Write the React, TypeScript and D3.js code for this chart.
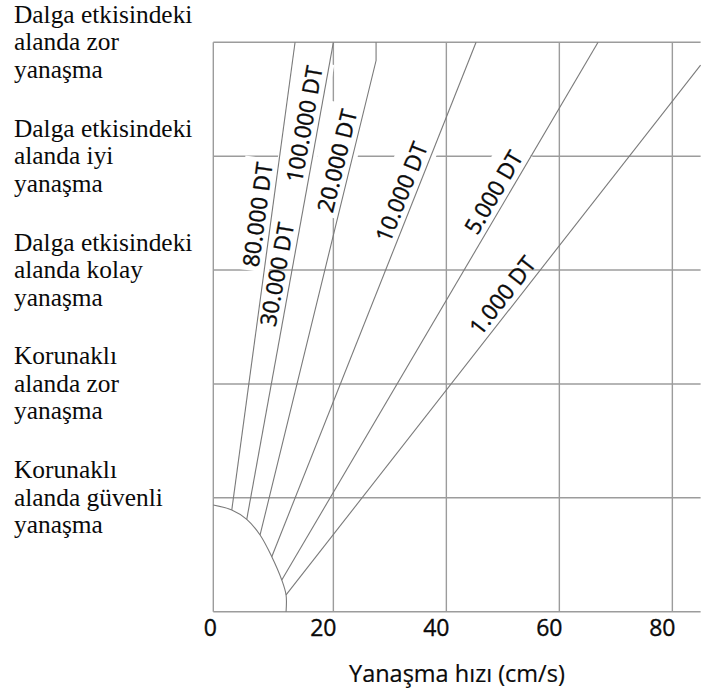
import React, { useEffect, useRef } from "react";
import * as d3 from "d3";

const W = 701;
const H = 696;

// Horizontal axis: berthing speed (cm/s)
const speedDomain = [-1.25, 85];
const speedTicks = [0, 20, 40, 60, 80];
const speedGrid = [20, 40, 60, 80];
const axisTitle = "Yanaşma hızı (cm/s)";

// Vertical axis: berthing condition levels (0 = bottom edge)
const levelDomain = [0, 5];
const levelGrid = [0, 1, 2, 3, 4, 5];
const categoryLevels = [5, 4, 3, 2, 1];
const categories = [
  ["Dalga etkisindeki", "alanda zor", "yanaşma"],
  ["Dalga etkisindeki", "alanda iyi", "yanaşma"],
  ["Dalga etkisindeki", "alanda kolay", "yanaşma"],
  ["Korunaklı", "alanda zor", "yanaşma"],
  ["Korunaklı", "alanda güvenli", "yanaşma"],
];

// Inner boundary curve the tonnage lines start from: [speed, level]
const boundary: [number, number][] = [
  [-1.25, 0.937],
  [2.02, 0.893],
  [4.67, 0.811],
  [7.03, 0.674],
  [9.1, 0.483],
  [10.87, 0.278],
  [11.63, 0.147],
  [11.63, 0],
];

// Tonnage lines, vertices from bottom to top: [speed, level]
const lineA: [number, number][] = [[2.02, 0.893], [13.22, 5]];
const lineB: [number, number][] = [[4.67, 0.811], [20, 5]];
const lineC: [number, number][] = [[7.03, 0.674], [27.56, 4.84], [27.56, 5]];
const lineD: [number, number][] = [[9.1, 0.483], [45.26, 5]];
const lineE: [number, number][] = [[10.87, 0.278], [66.85, 5]];
const lineF: [number, number][] = [[11.63, 0.147], [85, 4.8]];
const tonnageLines = [lineA, lineB, lineC, lineD, lineE, lineF];

// Labels written along the lines
const labelNames = ["80.000 DT", "100.000 DT", "30.000 DT", "20.000 DT", "10.000 DT", "5.000 DT", "1.000 DT"];
const labelLine = [0, 1, 1, 2, 3, 4, 5];
const labelLevel = [3.47, 4.26, 2.94, 3.93, 3.64, 3.62, 2.7];
const labelBoxed = [true, true, false, true, true, true, false];

export default function App() {
  const ref = useRef<SVGSVGElement>(null);

  useEffect(() => {
    const svg = d3.select(ref.current);
    svg.selectAll("*").remove();

    const x = d3.scaleLinear().domain(speedDomain).range([213.3, 700.6]);
    const y = d3.scaleLinear().domain(levelDomain).range([611.7, 42.3]);

    const gridColor = "#9c9c9c";
    const lineColor = "#7a7a7a";
    const ink = "#0a0a0a";
    const sans = "'Open Sans', sans-serif";
    const serif = "'Liberation Serif', 'Times New Roman', serif";

    const gGrid = svg.append("g");
    const gMask = svg.append("g");
    const gLines = svg.append("g");
    const gText = svg.append("g");

    // grid
    gGrid
      .selectAll("line.h")
      .data(levelGrid)
      .join("line")
      .attr("class", "h")
      .attr("x1", x(speedDomain[0]))
      .attr("x2", x(speedDomain[1]))
      .attr("y1", (d) => y(d))
      .attr("y2", (d) => y(d))
      .attr("stroke", gridColor)
      .attr("stroke-width", 1.4);

    gGrid
      .selectAll("line.v")
      .data([speedDomain[0], ...speedGrid])
      .join("line")
      .attr("class", "v")
      .attr("x1", (d) => x(d))
      .attr("x2", (d) => x(d))
      .attr("y1", y(levelDomain[0]))
      .attr("y2", y(levelDomain[1]))
      .attr("stroke", gridColor)
      .attr("stroke-width", 1.4);

    const toPx = (pts: [number, number][]) => pts.map(([s, l]) => [x(s), y(l)] as [number, number]);
    const path = d3.line();

    // boundary arc
    gLines
      .append("path")
      .attr("d", d3.line().curve(d3.curveCatmullRom.alpha(0.5))(toPx(boundary)))
      .attr("fill", "none")
      .attr("stroke", lineColor)
      .attr("stroke-width", 1.1);

    // tonnage lines
    gLines
      .selectAll("path.t")
      .data(tonnageLines)
      .join("path")
      .attr("class", "t")
      .attr("d", (d) => path(toPx(d)))
      .attr("fill", "none")
      .attr("stroke", lineColor)
      .attr("stroke-width", 1.1);

    // labels along the lines
    labelNames.forEach((name, i) => {
      const pts = toPx(tonnageLines[labelLine[i]]);
      const ty = y(labelLevel[i]);
      let seg = 0;
      for (let k = 0; k < pts.length - 1; k++) {
        const [, y0] = pts[k];
        const [, y1] = pts[k + 1];
        if ((ty <= y0 && ty >= y1) || (ty >= y0 && ty <= y1)) {
          seg = k;
          break;
        }
      }
      const [x0, y0] = pts[seg];
      const [x1, y1] = pts[seg + 1];
      const t = (ty - y0) / (y1 - y0);
      const px = x0 + t * (x1 - x0);
      const ang = (Math.atan2(y1 - y0, x1 - x0) * 180) / Math.PI;
      const transform = `translate(${px},${ty}) rotate(${ang})`;

      const g = gText.append("g").attr("transform", transform);
      const txt = g
        .append("text")
        .attr("x", 0)
        .attr("y", -6)
        .attr("text-anchor", "middle")
        .attr("font-family", sans)
        .attr("font-size", 22.5)
        .attr("fill", ink)
        .attr("stroke", ink)
        .attr("stroke-width", 0.35)
        .text(name);

      if (labelBoxed[i]) {
        const bb = (txt.node() as SVGTextElement).getBBox();
        const pad = 4;
        gMask
          .append("rect")
          .attr("transform", transform)
          .attr("x", bb.x - pad)
          .attr("y", bb.y - pad)
          .attr("width", bb.width + pad * 2)
          .attr("height", bb.height + pad * 2)
          .attr("fill", "#fff");
      }
    });

    // x tick labels
    gText
      .selectAll("text.tick")
      .data(speedTicks)
      .join("text")
      .attr("class", "tick")
      .attr("x", (d) => x(d) - 10)
      .attr("y", 636)
      .attr("text-anchor", "middle")
      .attr("font-family", sans)
      .attr("font-size", 23)
      .attr("fill", ink)
      .attr("stroke", ink)
      .attr("stroke-width", 0.35)
      .text((d) => d);

    gText
      .append("text")
      .attr("x", (x(speedDomain[0]) + x(speedDomain[1])) / 2)
      .attr("y", 681.5)
      .attr("text-anchor", "middle")
      .attr("font-family", sans)
      .attr("font-size", 23.5)
      .attr("fill", ink)
      .attr("stroke", ink)
      .attr("stroke-width", 0.2)
      .text(axisTitle);

    // category labels on the left
    categories.forEach((lines, i) => {
      const base = y(categoryLevels[i]) + 8;
      const t = gText
        .append("text")
        .attr("font-family", serif)
        .attr("font-size", 25.4)
        .attr("fill", ink);
      lines.forEach((ln, j) => {
        t.append("tspan")
          .attr("x", 14)
          .attr("y", base + (j - 1) * 27.5)
          .text(ln);
      });
    });
  }, []);

  return (
    <svg
      ref={ref}
      width={W}
      height={H}
      style={{ position: "absolute", left: 0, top: 0, background: "#fff" }}
    />
  );
}
